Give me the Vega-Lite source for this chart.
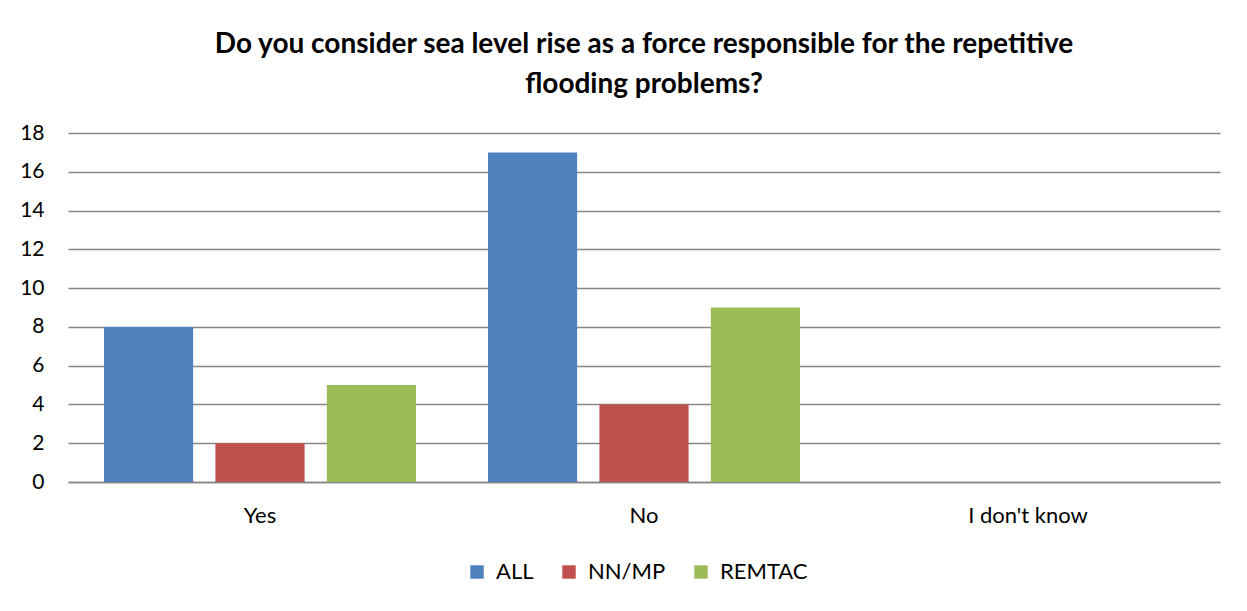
{
  "$schema": "https://vega.github.io/schema/vega-lite/v6.json",
  "autosize": "none",
  "width": 1152,
  "height": 349,
  "padding": {"left": 68, "top": 133, "right": 27, "bottom": 129},
  "background": "white",
  "title": {
    "text": ["Do you consider sea level rise as a force responsible for the repetitive", "flooding problems?"],
    "font": "Lato",
    "fontSize": 28,
    "fontWeight": "bold",
    "color": "black",
    "anchor": "middle",
    "lineHeight": 40,
    "offset": 23
  },
  "data": {
    "values": [
      {"answer": "Yes", "group": "ALL", "count": 8},
      {"answer": "Yes", "group": "NN/MP", "count": 2},
      {"answer": "Yes", "group": "REMTAC", "count": 5},
      {"answer": "No", "group": "ALL", "count": 17},
      {"answer": "No", "group": "NN/MP", "count": 4},
      {"answer": "No", "group": "REMTAC", "count": 9},
      {"answer": "I don't know", "group": "ALL", "count": 0},
      {"answer": "I don't know", "group": "NN/MP", "count": 0},
      {"answer": "I don't know", "group": "REMTAC", "count": 0}
    ]
  },
  "mark": {"type": "bar"},
  "encoding": {
    "x": {
      "field": "answer",
      "type": "nominal",
      "sort": ["Yes", "No", "I don't know"],
      "scale": {"paddingInner": 0.1875, "paddingOuter": 0.09375},
      "axis": {
        "title": null,
        "labelAngle": 0,
        "labelFont": "Lato",
        "labelFontSize": 22,
        "labelColor": "black",
        "labelPadding": 23,
        "ticks": false,
        "domainColor": "#868686",
        "domainWidth": 1.5,
        "grid": false
      }
    },
    "xOffset": {
      "field": "group",
      "type": "nominal",
      "sort": ["ALL", "NN/MP", "REMTAC"],
      "scale": {"paddingInner": 0.2, "paddingOuter": 0}
    },
    "y": {
      "field": "count",
      "type": "quantitative",
      "scale": {"domain": [0, 18]},
      "axis": {
        "title": null,
        "values": [0, 2, 4, 6, 8, 10, 12, 14, 16, 18],
        "labelFont": "Lato",
        "labelFontSize": 21,
        "labelColor": "black",
        "labelPadding": 24,
        "ticks": false,
        "domain": false,
        "grid": true,
        "gridColor": "#868686",
        "gridWidth": 1.5
      }
    },
    "color": {
      "field": "group",
      "type": "nominal",
      "sort": ["ALL", "NN/MP", "REMTAC"],
      "scale": {"domain": ["ALL", "NN/MP", "REMTAC"], "range": ["#4F81BD", "#C0504D", "#9BBB59"]},
      "legend": {
        "title": null,
        "orient": "none",
        "legendX": 398,
        "legendY": 428,
        "direction": "horizontal",
        "symbolType": "square",
        "symbolSize": 180,
        "symbolStrokeWidth": 0,
        "labelFont": "Lato",
        "labelFontSize": 22,
        "labelColor": "black",
        "labelOffset": 8,
        "columnPadding": 24
      }
    }
  },
  "config": {
    "view": {"stroke": null}
  }
}
